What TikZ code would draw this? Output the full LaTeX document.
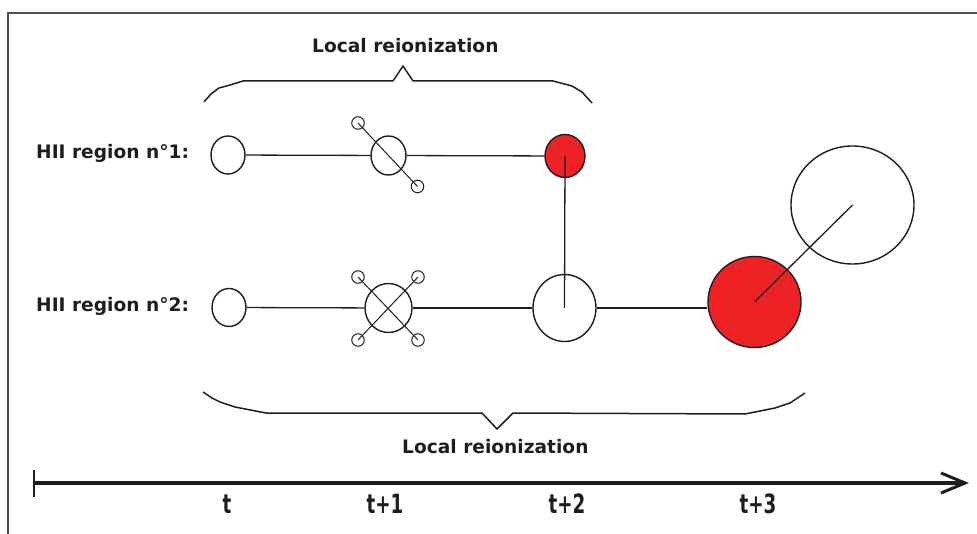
\documentclass[tikz,border=0pt]{standalone}
\usepackage{fontspec}
\setmainfont{DejaVu Sans}
\newfontfamily\condfont{DejaVu Sans}[FakeStretch=0.69]
\usetikzlibrary{shapes.geometric}
\definecolor{hiired}{RGB}{238,34,36}
\definecolor{framegray}{RGB}{80,80,80}
\definecolor{ink}{RGB}{30,30,30}
\begin{document}
\begin{tikzpicture}[x=1pt,y=-1pt,
  reg/.style={draw=ink, line width=1.4pt, ellipse, inner sep=0pt, fill=white},
  hot/.style={reg, fill=hiired},
  sat/.style={draw=ink, line width=1pt, circle, inner sep=0pt, minimum size=12.5pt},
  link/.style={draw=ink, line width=1.3pt},
  brace/.style={draw=ink, line width=1.5pt, line join=round},
  lbl/.style={font=\fontsize{18.6}{20}\selectfont\bfseries, text=ink, inner sep=0pt},
  tlbl/.style={font=\condfont\fontsize{26.5}{28}\selectfont\bfseries, text=ink, inner sep=0pt, anchor=base}]
\useasboundingbox (0,0) rectangle (977,534);
% frame (cropped)
\draw[framegray, line width=2pt] (8,534) -- (8,13) -- (977,13);

% labels
\node[lbl, anchor=base west] (top) at (312,53) {Local reionization};
\node[lbl, anchor=base west] (bot) at (402,453) {Local reionization};
\node[lbl, anchor=base west] (h1) at (36,159) {HII region n°1:};
\node[lbl, anchor=base west] (h2) at (36,312) {HII region n°2:};

% braces
\draw[brace] (204,102) -- (211,94) -- (219,88) -- (230,85) -- (243,81) -- (393,81) -- (403,66) -- (413,81) -- (553,81) -- (572,86) -- (582,92) -- (592,103);
\draw[brace] (203,392) -- (212,398) -- (220,402) -- (235,407) -- (266,413) -- (482,413) -- (497,429) -- (513,413) -- (745,414) -- (775,408) -- (790,403) -- (805,393);

% region nodes
\node[reg, minimum width=34pt, minimum height=38pt] (a1) at (228,155) {};
\node[reg, minimum width=35pt, minimum height=39pt] (b1) at (388.5,155.5) {};
\node[hot, minimum width=40pt, minimum height=43pt] (c1) at (565,156) {};
\node[reg, minimum width=34pt, minimum height=38pt] (a2) at (229,307.5) {};
\node[reg, minimum width=47pt, minimum height=49pt] (b2) at (388.5,308) {};
\node[reg, minimum width=63pt, minimum height=67pt] (c2) at (564.5,308) {};
\node[hot, minimum width=93pt, minimum height=91pt] (d2) at (754.5,302) {};
\node[reg, fill=none, minimum width=123pt, minimum height=118pt] (e2) at (852.5,205) {};

% satellite circles
\node[sat] (s1) at (358,123) {};
\node[sat] (s2) at (417.5,186.5) {};
\node[sat] (t1) at (358,277) {};
\node[sat] (t2) at (418,277) {};
\node[sat] (t3) at (358,340) {};
\node[sat] (t4) at (418,340) {};

% links
\draw[link] (a1) -- (b1);
\draw[link] (b1) -- (c1);
\draw[link] (a2) -- (b2);
\draw[link, line width=1.8pt] (b2) -- (c2);
\draw[link] (c2.east) -- (d2.west |- c2.east);
\draw[link] (c1.center) -- (c2.center);
\draw[link] (d2.center) -- (e2.center);
\draw[link, line width=1pt] (s1.center) -- (s2.center);
\draw[link, line width=1pt] (t1.center) -- (t4.center);
\draw[link, line width=1pt] (t2.center) -- (t3.center);

% time axis
\coordinate (ax0) at (33,483);
\coordinate (ax1) at (965,483);
\draw[ink, line width=3.5pt] (ax0) -- (ax1);
\draw[ink, line width=2.5pt] (34,470) -- (34,497);
\draw[ink, line width=3pt, line join=miter] (941,473) -- (ax1) -- (941,493);
\node[tlbl] (tt0) at (227,513) {t};
\node[tlbl] (tt1) at (385,513) {t+1};
\node[tlbl] (tt2) at (567,513) {t+2};
\node[tlbl] (tt3) at (758,513) {t+3};
\end{tikzpicture}
\end{document}
